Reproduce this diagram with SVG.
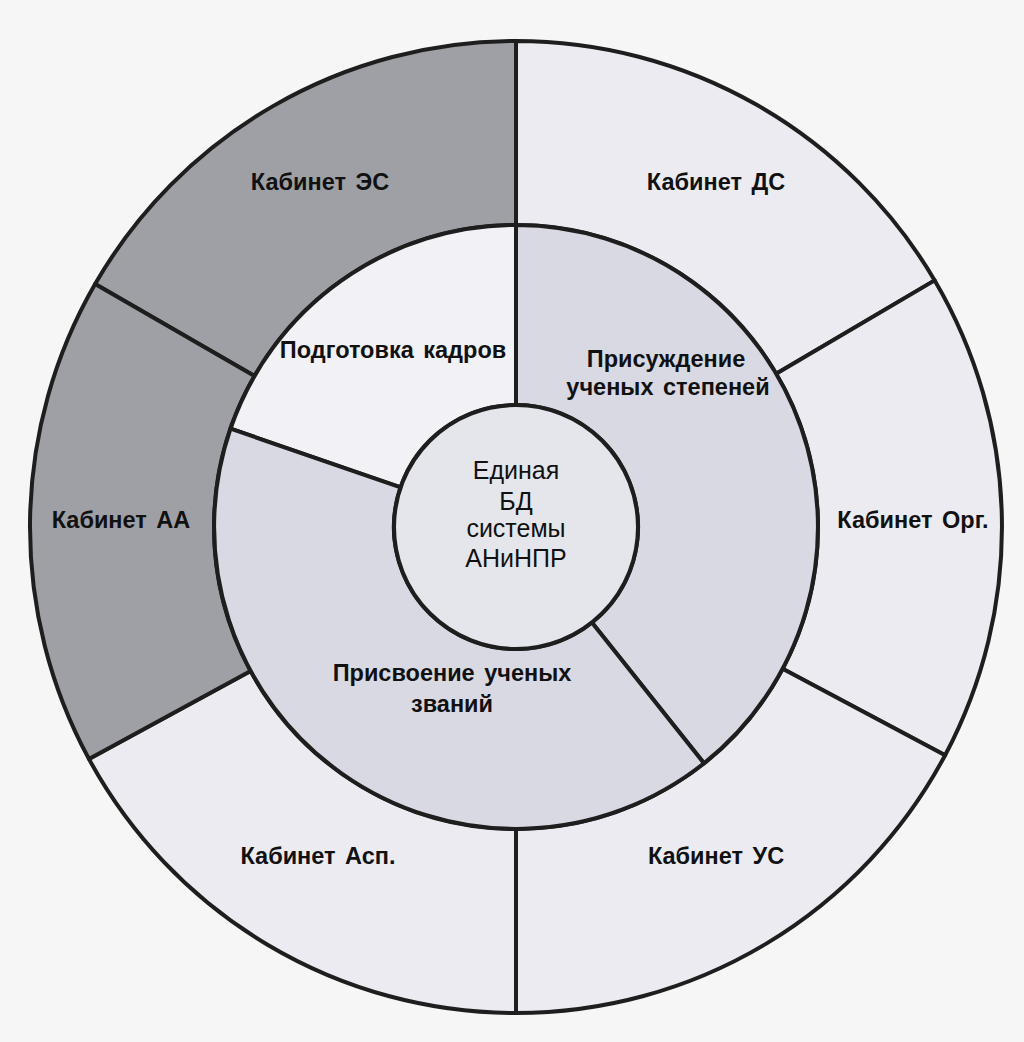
<svg xmlns="http://www.w3.org/2000/svg" width="1024" height="1042" viewBox="0 0 1024 1042">
<style>
.sec{stroke:#1e1e1e;stroke-width:4;stroke-linejoin:round}
.dark{fill:#9ea0a5}
.light{fill:#ebebf1}
.mid{fill:#d8d9e2}
.pale{fill:#f1f1f6}
.core{fill:#e5e6ec}
.t{font-family:"Liberation Sans",Arial,sans-serif;font-size:23.5px;font-weight:bold;fill:#111;text-anchor:middle;word-spacing:3px}
.c{font-family:"Liberation Sans",Arial,sans-serif;font-size:25px;fill:#111;text-anchor:middle}
</style>
<rect x="0" y="0" width="1024" height="1042" fill="#f6f6f6"/>
<g id="outer-ring">
<g id="kab-es"><path class="sec dark" d="M95.1,284 A486,486 0 0 1 516,41 L516,225 A302,302 0 0 0 254.5,376 Z"/><text class="t" x="320" y="190">Кабинет ЭС</text></g>
<g id="kab-ds"><path class="sec light" d="M516,41 A486,486 0 0 1 934.7,280.4 L776.2,373.7 A302,302 0 0 0 516,225 Z"/><text class="t" x="716" y="190">Кабинет ДС</text></g>
<g id="kab-org"><path class="sec light" d="M934.7,280.4 A486,486 0 0 1 945.1,755.2 L782.6,668.8 A302,302 0 0 0 776.2,373.7 Z"/><text class="t" x="913" y="528">Кабинет Орг.</text></g>
<g id="kab-us"><path class="sec light" d="M945.1,755.2 A486,486 0 0 1 516,1013 L516,829 A302,302 0 0 0 782.6,668.8 Z"/><text class="t" x="716" y="864">Кабинет УС</text></g>
<g id="kab-asp"><path class="sec light" d="M516,1013 A486,486 0 0 1 88.9,758.9 L250.6,671.1 A302,302 0 0 0 516,829 Z"/><text class="t" x="318" y="864">Кабинет Асп.</text></g>
<g id="kab-aa"><path class="sec dark" d="M88.9,758.9 A486,486 0 0 1 95.1,284 L254.5,376 A302,302 0 0 0 250.6,671.1 Z"/><text class="t" x="121" y="528">Кабинет АА</text></g>
</g>
<g id="inner-ring">
<g id="podgotovka"><path class="sec pale" d="M230.5,428.7 A302,302 0 0 1 516,225 L516,405 A122,122 0 0 0 400.6,487.3 Z"/><text class="t" x="393" y="358">Подготовка кадров</text></g>
<g id="prisuzhdenie"><path class="sec mid" d="M516,225 A302,302 0 0 1 704,763.3 L591.9,622.5 A122,122 0 0 0 516,405 Z"/><text class="t" x="666" y="367">Присуждение</text><text class="t" x="668" y="395">ученых степеней</text></g>
<g id="prisvoenie"><path class="sec mid" d="M704,763.3 A302,302 0 0 1 230.5,428.7 L400.6,487.3 A122,122 0 0 0 591.9,622.5 Z"/><text class="t" x="452" y="681">Присвоение ученых</text><text class="t" x="452" y="712">званий</text></g>
</g>
<g id="core">
<circle class="sec core" cx="516" cy="527" r="122"/>
<text class="c" x="516" y="479">Единая</text>
<text class="c" x="516" y="510">БД</text>
<text class="c" x="516" y="537">системы</text>
<text class="c" x="516" y="567">АНиНПР</text>
</g>
<g id="connectors"></g>
</svg>
